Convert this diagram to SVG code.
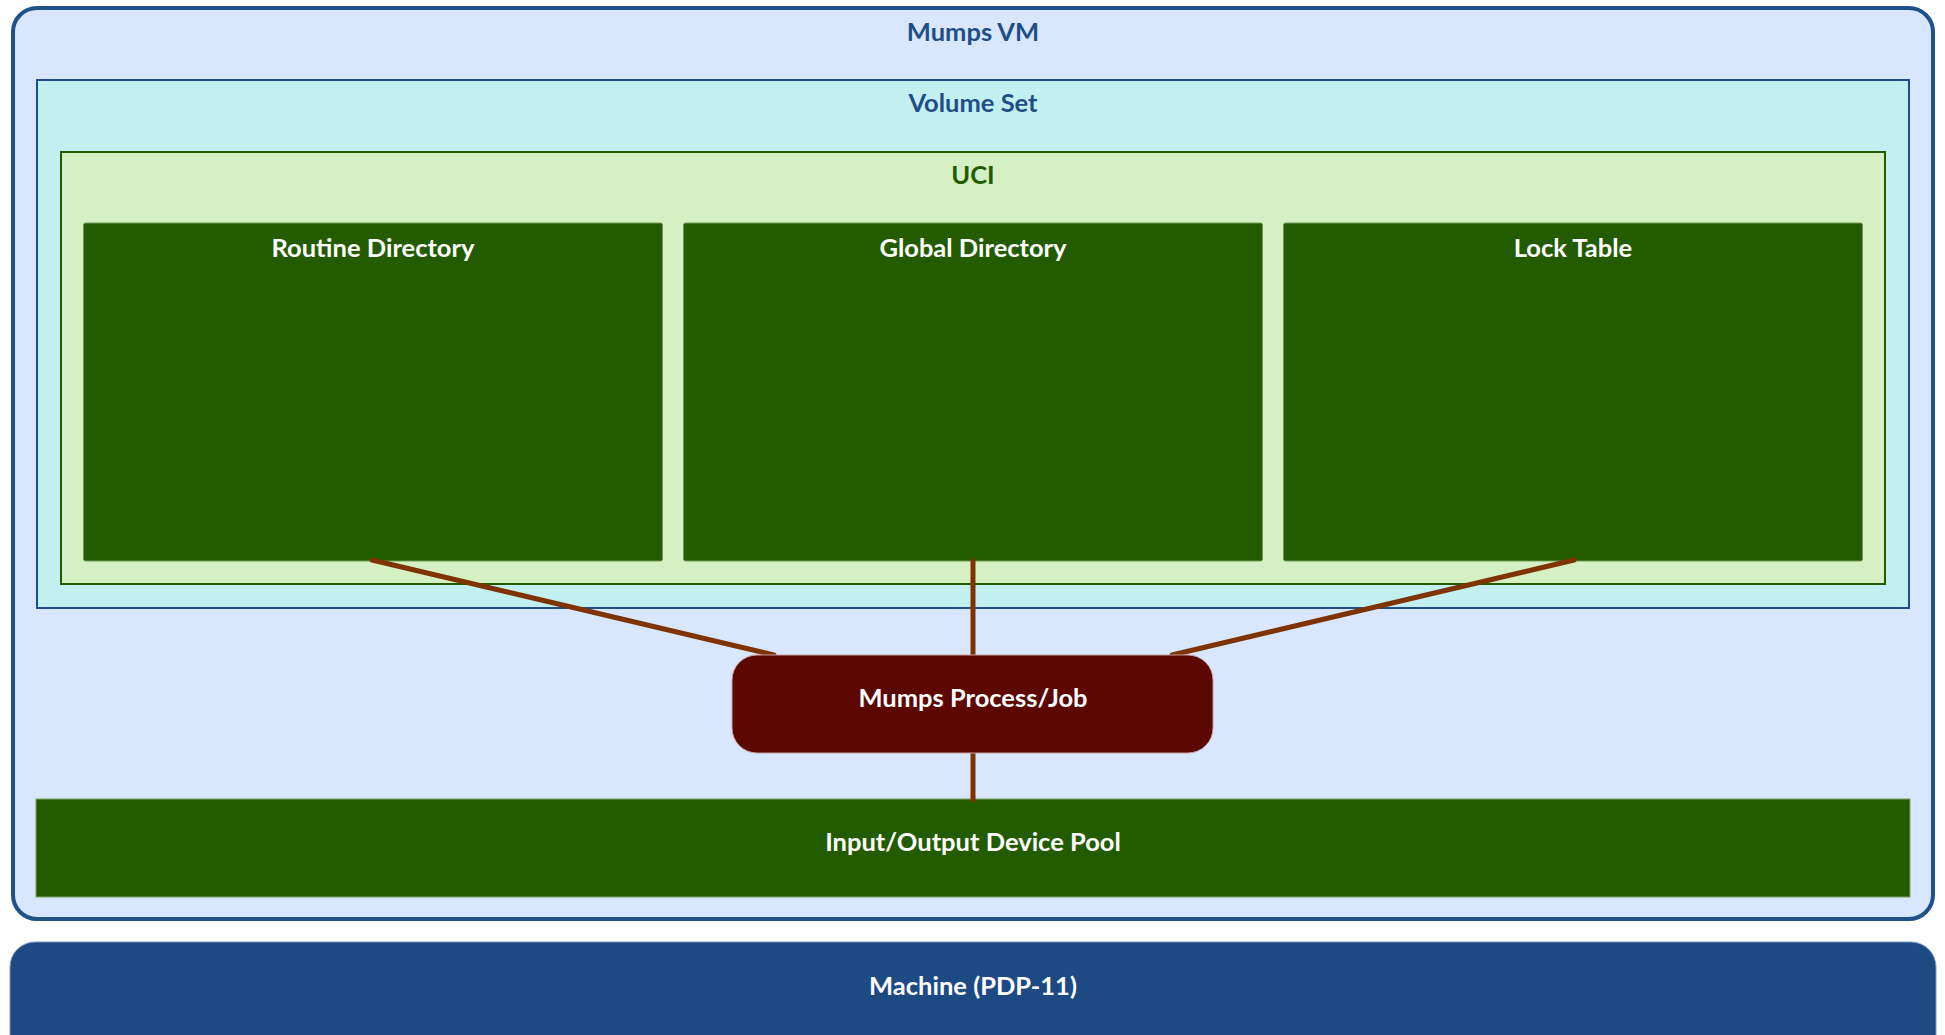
<svg xmlns="http://www.w3.org/2000/svg" width="1945" height="1035" viewBox="0 0 1945 1035">
<style>
text{font-family:Lato,"Open Sans","Liberation Sans",sans-serif;font-weight:bold;font-size:25.5px;text-anchor:middle}
.w{fill:#ffffff}
.blue{fill:#1f4e87}
.green{fill:#225a00}
.leaf{fill:#235c00;stroke:#6f9a55;stroke-width:1}
.conn{stroke:#7f3300;stroke-width:5;stroke-linecap:round;fill:none}
</style>
<rect width="1945" height="1035" fill="#ffffff"/>
<g id="mumps-vm">
<rect x="13" y="8" width="1920" height="911" rx="24" fill="#d8e7fe" stroke="#1f5289" stroke-width="4"/>
<text class="blue" x="973" y="41">Mumps VM</text>
</g>
<g id="volume-set">
<rect x="37" y="80" width="1872" height="528" fill="#c2f0f0" stroke="#1f4f86" stroke-width="2"/>
<text class="blue" x="973" y="112">Volume Set</text>
</g>
<g id="uci">
<rect x="61" y="152" width="1824" height="432" fill="#d5f0c2" stroke="#225a00" stroke-width="2"/>
<text class="green" x="973" y="184">UCI</text>
</g>
<g id="routine-directory">
<rect class="leaf" x="83.5" y="223" width="579" height="338" rx="2"/>
<text class="w" x="373" y="257">Routine Directory</text>
</g>
<g id="global-directory">
<rect class="leaf" x="683.5" y="223" width="579" height="338" rx="2"/>
<text class="w" x="973" y="257">Global Directory</text>
</g>
<g id="lock-table">
<rect class="leaf" x="1283.5" y="223" width="579" height="338" rx="2"/>
<text class="w" x="1573" y="257">Lock Table</text>
</g>
<g id="io-pool">
<rect x="36" y="799" width="1874" height="98" fill="#235c00" stroke="#7aa060" stroke-width="1"/>
<text class="w" x="973" y="851">Input/Output Device Pool</text>
</g>
<g id="connectors">
<line class="conn" x1="372" y1="560" x2="774" y2="655"/>
<line class="conn" x1="973" y1="561" x2="973" y2="655"/>
<line class="conn" x1="1574" y1="560" x2="1172" y2="655"/>
<line class="conn" x1="973" y1="753" x2="973" y2="800"/>
</g>
<g id="mumps-process">
<rect x="732" y="655" width="481" height="98" rx="25" fill="#5c0700" stroke="#c8a0a0" stroke-width="1"/>
<text class="w" x="973" y="707">Mumps Process/Job</text>
</g>
<g id="machine">
<rect x="10" y="942" width="1926" height="130" rx="25" fill="#1e4a84" stroke="#7a9ac0" stroke-width="1"/>
<text class="w" x="973" y="995">Machine (PDP-11)</text>
</g>
</svg>
